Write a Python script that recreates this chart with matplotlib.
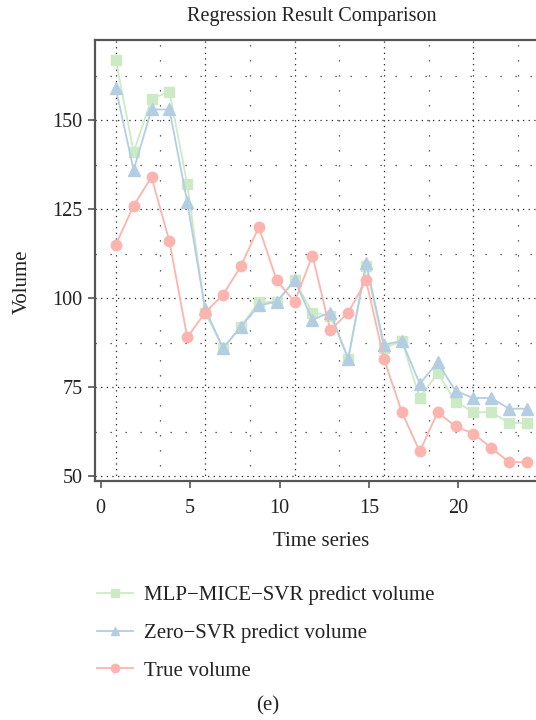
import matplotlib
matplotlib.use('Agg')
import matplotlib.pyplot as plt
import numpy as np

plt.rcParams['font.family'] = ['Liberation Serif', 'DejaVu Serif']

time = np.arange(1, 25)
mlp_mice_svr = [167, 141, 156, 158, 132, 96, 86, 92, 99, 99, 105, 96,
                95, 83, 109, 86, 88, 72, 79, 71, 68, 68, 65, 65]
zero_svr = [159, 136, 153, 153, 127, 97, 86, 92, 98, 99, 105, 94,
            96, 83, 110, 87, 88, 76, 82, 74, 72, 72, 69, 69]
true_vol = [115, 126, 134, 116, 89, 96, 101, 109, 120, 105, 99, 112,
            91, 96, 105, 83, 68, 57, 68, 64, 62, 58, 54, 54]
labels = ['MLP\u2212MICE\u2212SVR predict volume', 'Zero\u2212SVR predict volume', 'True volume']

green = '#ccebc5'
blue = '#b3cde3'
red = '#fbb4ae'
spine_col = '#555555'

fig = plt.figure(figsize=(5.36, 7.2), dpi=100)
ax = fig.add_axes([95 / 536, 1 - 481 / 720, 1 - 95 / 536 + 0.02, (481 - 40) / 720])

# grid: dense dotted at majors, sparse dotted at the halves
dense = dict(color='#222222', lw=0.9, ls=(0, (1, 3.5)), zorder=0)
sparse = dict(color='#333333', lw=0.9, ls=(0, (1, 11)), zorder=0)
for gx in [1, 6, 11, 16, 21]:
    ax.axvline(gx, **dense)
for gx in [3.5, 8.5, 13.5, 18.5, 23.5]:
    ax.axvline(gx, **sparse)
for gy in [50, 75, 100, 125, 150]:
    ax.axhline(gy, **dense)
for gy in [62.5, 87.5, 112.5, 137.5, 162.5]:
    ax.axhline(gy, **sparse)

ax.plot(time, mlp_mice_svr, color=green, marker='s', ms=7.5, lw=1.3, label=labels[0])
ax.plot(time, zero_svr, color=blue, marker='^', ms=8, lw=1.3, label=labels[1])
ax.plot(time, true_vol, color=red, marker='o', ms=7.5, lw=1.3, label=labels[2])

ax.set_xlim(-0.16, 25.1)
ax.set_ylim(48.7, 172.5)
xt = [0, 5, 10, 15, 20]
ax.set_xticks([t + 0.16 for t in xt])
ax.set_xticklabels([str(t) for t in xt])
ax.set_yticks([50, 75, 100, 125, 150])

for s in ['left', 'bottom', 'top']:
    ax.spines[s].set_color(spine_col)
    ax.spines[s].set_linewidth(1.6)
ax.spines['right'].set_visible(False)
ax.tick_params(axis='both', direction='out', length=5, width=1.2, color=spine_col,
               labelsize=14.5, labelcolor='#222222', pad=4)
ax.tick_params(axis='x', pad=8)

fig.text(312 / 536, 1 - 16 / 720, 'Regression Result Comparison', ha='center', va='center',
         fontsize=14.5, color='#222222')
fig.text(22 / 536, 1 - 282 / 720, 'Volume', rotation=90, ha='center', va='center',
         fontsize=15, color='#222222')
fig.text(321 / 536, 1 - 541 / 720, 'Time series', ha='center', va='center',
         fontsize=15, color='#222222')
fig.text(268 / 536, 1 - 706 / 720, '(e)', ha='center', va='center',
         fontsize=15, color='#222222')

handles, lbls = ax.get_legend_handles_labels()
leg = fig.legend(handles, lbls, loc='upper left', bbox_to_anchor=(78 / 536, 1 - 567 / 720),
                 frameon=False, fontsize=15, handlelength=1.75, handletextpad=0.5,
                 labelspacing=0.87, markerscale=0.8)
for t in leg.get_texts():
    t.set_color('#222222')

fig.savefig('out.png', dpi=100)
